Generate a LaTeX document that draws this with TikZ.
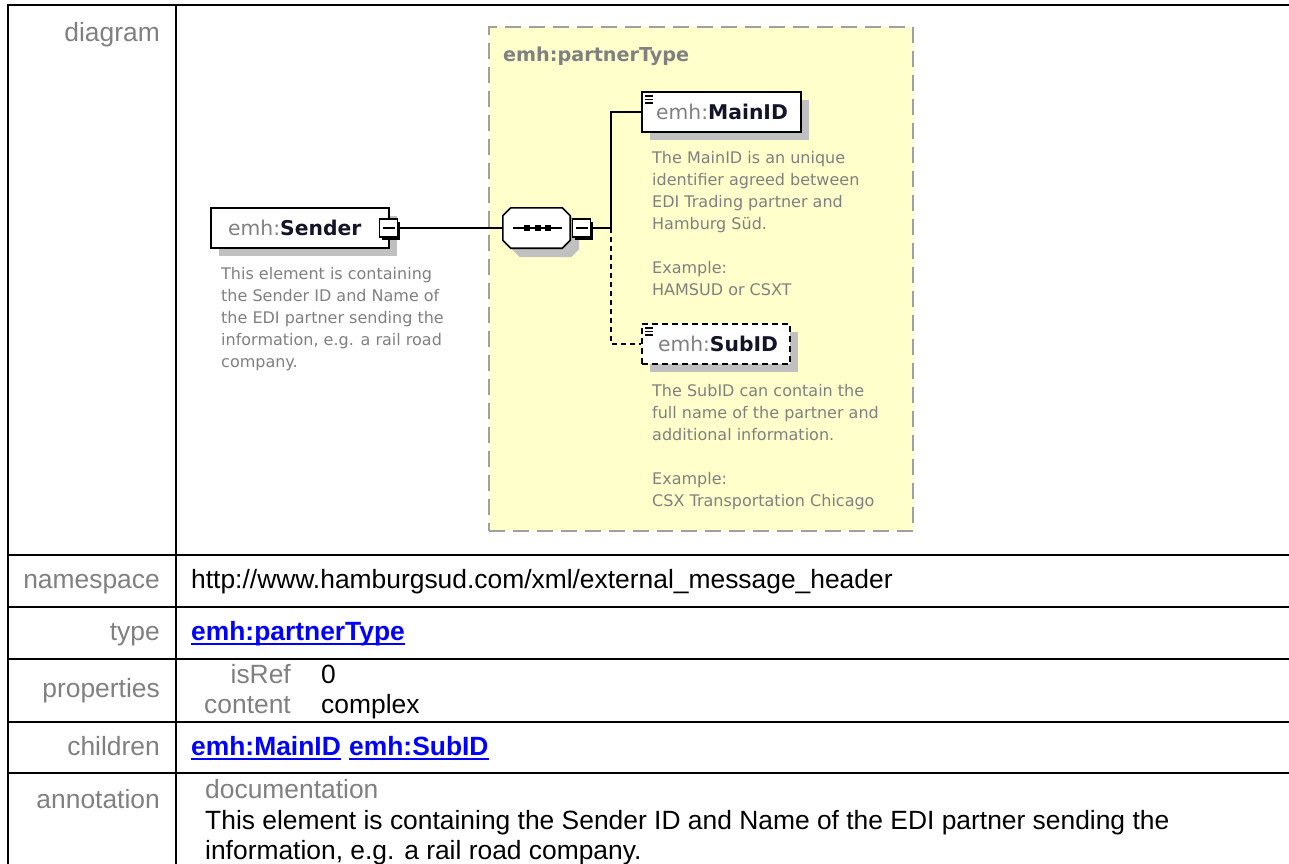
\documentclass[tikz,border=0pt]{standalone}
\usepackage{fontspec}
\setmainfont{Liberation Sans}
\newfontfamily\dv{DejaVu Sans}
\usetikzlibrary{shadows,calc}
\definecolor{lbl}{RGB}{128,128,128}
\definecolor{ylw}{RGB}{255,255,204}
\definecolor{dashc}{RGB}{160,160,160}
\definecolor{shd}{RGB}{192,192,192}
\definecolor{lnkc}{RGB}{0,0,255}
\definecolor{nm}{RGB}{20,20,40}
\newcommand\myul[1]{\setbox0=\hbox{#1}\rlap{\rule[-4.5pt]{\wd0}{2pt}}\box0}
\begin{document}
\begin{tikzpicture}[x=1pt,y=-1pt,
  grid/.style={line width=2.6pt,black},
  rowlbl/.style={font=\fontsize{26.4}{31}\selectfont, text=lbl, anchor=mid east, inner sep=0pt},
  cell/.style={font=\fontsize{26.4}{31}\selectfont, text=black, anchor=mid west, inner sep=0pt},
  lnk/.style={font=\fontsize{26.4}{31}\selectfont\bfseries, text=lnkc, anchor=mid west, inner sep=0pt},
  typebox/.style={draw=dashc, fill=ylw, line width=2pt, dash pattern=on 16pt off 8pt, inner sep=0pt},
  typelbl/.style={font=\dv\bfseries\fontsize{19.2}{23}\selectfont, text=lbl, anchor=mid west, inner sep=0pt},
  elbox/.style={draw=black, fill=white, line width=1.6pt, inner sep=0pt, minimum height=40pt,
     general shadow={fill=shd, shadow xshift=8pt, shadow yshift=-8pt}},
  optbox/.style={dash pattern=on 6pt off 4pt},
  ellbl/.style={font=\dv\fontsize{20.3}{24}\selectfont, inner sep=0pt, anchor=mid},
  octline/.style={draw=black, fill=white, line width=1.6pt},
  minusbox/.style={draw=black, fill=white, line width=1.4pt, inner sep=0pt, minimum size=18pt,
     general shadow={fill=black, shadow xshift=2.5pt, shadow yshift=-2.5pt},
     path picture={\draw[line width=1.4pt] ([xshift=3pt]path picture bounding box.west) -- ([xshift=-3pt]path picture bounding box.east);}},
  conn/.style={line width=1.6pt, black},
  optconn/.style={line width=1.6pt, black, dash pattern=on 5pt off 4pt},
  desc/.style={font=\dv\fontsize{16}{22}\selectfont, text=lbl, align=left, anchor=north west, inner sep=0pt},
  iconline/.style={line width=1.3pt, black}
]
\useasboundingbox (0,0) rectangle (1289,863);
\clip (0,0) rectangle (1289,863);
\fill[white] (0,0) rectangle (1289,863);

% ---------- table ----------
\draw[grid] (8,875) -- (8,5) -- (1300,5);
\draw[grid] (176,5) -- (176,875);
\foreach \yy in {555,607,659,722,773} \draw[grid] (8,\yy) -- (1300,\yy);

\node[rowlbl] (ldiag) at (160,39) {diagram};
\node[rowlbl] (lns) at (160,586) {namespace};
\node[rowlbl] (ltype) at (160,638) {type};
\node[rowlbl] (lprop) at (160,695) {properties};
\node[rowlbl] (lchild) at (160,753) {children};
\node[rowlbl] (lann) at (160,806) {annotation};

\node[cell] (vns) at (191,586) {http://www.hamburgsud.com/xml/external\_message\_header};
\node[lnk] (vtype) at (191,638) {\myul{emh:partnerType}};
\node[rowlbl] (kref) at (291,681) {isRef};
\node[cell] (vref) at (321,681) {0};
\node[rowlbl] (kcont) at (291,711) {content};
\node[cell] (vcont) at (321,711) {complex};
\node[lnk] (vmain) at (191,753) {\myul{emh:MainID}};
\node[lnk] (vsub) at (349,753) {\myul{emh:SubID}};
\node[cell, text=lbl] (kdoc) at (205,796) {documentation};
\node[cell] (vdoc1) at (205,827) {This element is containing the Sender ID and Name of the EDI partner sending the};
\node[cell] (vdoc2) at (205,857) {information, e.g. a rail road company.};

% ---------- diagram ----------
\node[typebox, minimum width=424pt, minimum height=504pt] (ptype) at (701,279) {};
\node[typelbl] (ptypelbl) at (503,59) {emh:partnerType};

% Sender
\node[elbox, minimum width=178pt] (sender) at (300,228) {};
\node[ellbl, anchor=mid west] (senderlbl) at (228,233) {{\color{lbl}emh:}\textbf{\color{nm}Sender}};
\node[minusbox] (sendermin) at (388.5,228) {};
\node[desc] (senderdesc) at (221,267) {This element is containing\\the Sender ID and Name of\\the EDI partner sending the\\information, e.g. a rail road\\company.};

% sequence compositor (octagon)
\node[minimum width=67pt, minimum height=40pt, inner sep=0pt] (seq) at (536.5,228) {};
\fill[shd] ($(seq.north west)+(17,9)$) -- ($(seq.north east)+(1,9)$) -- ($(seq.north east)+(9,17)$)
   -- ($(seq.south east)+(9,1)$) -- ($(seq.south east)+(1,9)$) -- ($(seq.south west)+(17,9)$)
   -- ($(seq.south west)+(9,1)$) -- ($(seq.north west)+(9,17)$) -- cycle;
\path[octline] ($(seq.north west)+(8,0)$) -- ($(seq.north east)+(-8,0)$) -- ($(seq.north east)+(0,8)$)
   -- ($(seq.south east)+(0,-8)$) -- ($(seq.south east)+(-8,0)$) -- ($(seq.south west)+(8,0)$)
   -- ($(seq.south west)+(0,-8)$) -- ($(seq.north west)+(0,8)$) -- cycle;
\draw[line width=1.4pt] ($(seq.center)+(-23.5,0)$) -- ($(seq.center)+(25.5,0)$);
\foreach \dx in {-9.5,1.5,11.5} \fill ($(seq.center)+(\dx-2.7,-2.7)$) rectangle +(5.4,5.4);
\node[minusbox] (seqmin) at (581.5,228) {};
\coordinate (jn) at (611,228);

% MainID
\node[elbox, minimum width=159pt] (mainid) at (721.5,112) {};
\node[ellbl] (mainidlbl) at (722,117) {{\color{lbl}emh:}\textbf{\color{nm}MainID}};
\foreach \yy in {96,99.5,103} \draw[iconline] (645,\yy) -- (653,\yy);
\node[desc] (mainiddesc) at (652,151) {The MainID is an unique\\identifier agreed between\\EDI Trading partner and\\Hamburg Süd.\\[22pt]Example:\\HAMSUD or CSXT};

% SubID
\node[elbox, optbox, minimum width=148pt] (subid) at (716,344) {};
\node[ellbl] (subidlbl) at (718,349) {{\color{lbl}emh:}\textbf{\color{nm}SubID}};
\foreach \yy in {328,331.5,335} \draw[iconline] (645,\yy) -- (653,\yy);
\node[desc] (subiddesc) at (652,384) {The SubID can contain the\\full name of the partner and\\additional information.\\[22pt]Example:\\CSX Transportation Chicago};

% connectors
\draw[conn] (sendermin.east) -- (seq.west);
\draw[conn] (seqmin.east) -- (jn);
\draw[conn] (jn) |- (mainid.west);
\draw[optconn] (jn) |- (subid.west);
\end{tikzpicture}
\end{document}
